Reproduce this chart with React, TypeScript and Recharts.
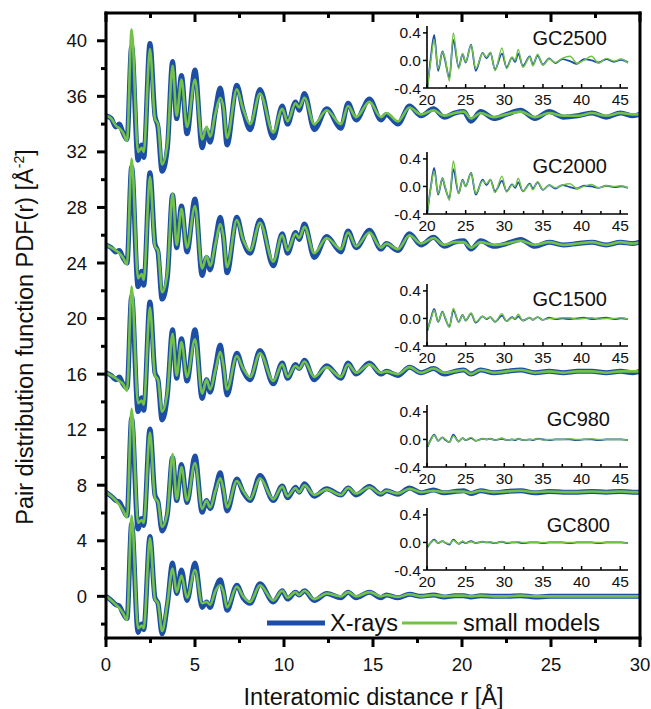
import React from 'react';
import { LineChart, Line, XAxis, YAxis } from 'recharts';

const FONT = '"Liberation Sans", Arial, Helvetica, sans-serif';
const BLUE = '#1c4ea6';
const GREEN = '#72c248';
const INK = '#111';

// ---------- main panel: interatomic distance r (Å) ----------
const R = [
  0, 0.3, 0.55, 0.75, 0.95, 1.18, 1.44, 1.8, 2.0, 2.12, 2.47,
  2.75, 2.92, 3.15, 3.45, 3.74, 3.97, 4.24, 4.55, 5.0, 5.4, 5.65,
  5.85, 6.15, 6.42, 6.6, 6.8, 7.35, 7.7, 8.1, 8.65, 9.4, 9.9,
  10.2, 10.65, 10.85, 11.15, 11.7, 12.4, 13.2, 13.6, 14.05, 14.8, 15.45,
  15.75, 16.4, 17.05, 17.7, 18.4, 19.0, 19.6, 20.1, 20.5, 21.05, 21.8,
  22.5, 23.3, 24.1, 24.9, 25.7, 26.5, 27.3, 28.1, 28.9, 29.6, 30,
];

const XRAY_2500 = [
  34.6, 34.4, 33.8, 34.0, 33.4, 32.9, 39.6, 31.4, 32.5, 31.6, 39.8,
  34.6, 33.8, 30.6, 32.3, 38.5, 34.4, 37.5, 33.3, 37.9, 32.3, 33.6,
  32.7, 35.0, 36.6, 35.2, 32.5, 36.8, 35.0, 33.6, 36.5, 33.0, 35.3,
  34.0, 35.6, 35.0, 36.2, 33.6, 35.1, 33.7, 35.5, 34.3, 35.8, 34.3,
  34.7, 34.0, 35.3, 34.6, 35.1, 34.5, 34.8, 34.9, 34.2, 34.9, 34.4,
  34.7, 35.0, 34.4, 34.9, 34.5, 34.6, 34.8, 34.5, 34.8, 34.6, 34.7,
];
const MODEL_2500 = [
  34.6, 34.4, 33.9, 33.7, 33.4, 32.8, 40.8, 32.0, 32.3, 32.0, 39.4,
  34.4, 34.0, 31.1, 32.6, 38.2, 34.6, 37.2, 33.8, 37.2, 32.9, 33.8,
  33.1, 34.8, 35.9, 35.2, 33.0, 36.5, 35.1, 34.0, 36.2, 33.4, 35.1,
  34.2, 35.5, 35.2, 35.9, 34.0, 35.0, 34.0, 35.3, 34.5, 35.6, 34.5,
  34.8, 34.2, 35.2, 34.7, 35.0, 34.6, 34.8, 34.9, 34.4, 34.8, 34.5,
  34.7, 34.9, 34.5, 34.8, 34.6, 34.6, 34.8, 34.6, 34.8, 34.7, 34.7,
];
const XRAY_2000 = [
  25.3, 25.1, 24.8, 24.9, 24.4, 24.0, 30.9, 22.3, 23.4, 22.4, 30.5,
  25.4, 24.8, 21.4, 23.0, 28.9, 25.1, 28.1, 24.8, 28.6, 23.1, 24.4,
  23.5, 25.6, 27.3, 25.9, 23.3, 27.3, 25.6, 24.7, 27.1, 23.8, 26.1,
  24.7, 26.2, 25.7, 26.8, 24.4, 25.9, 24.8, 26.3, 25.1, 26.35, 25.0,
  25.4, 24.9, 26.1, 25.3, 25.85, 25.2, 25.5, 25.6, 25.0, 25.6, 25.2,
  25.4, 25.7, 25.2, 25.5, 25.3, 25.4, 25.5, 25.3, 25.5, 25.4, 25.5,
];
const MODEL_2000 = [
  25.3, 25.1, 24.9, 24.7, 24.4, 23.9, 31.5, 22.9, 23.2, 22.8, 30.2,
  25.2, 24.9, 21.9, 23.3, 29.0, 25.3, 27.9, 25.1, 28.1, 23.6, 24.5,
  23.8, 25.4, 26.8, 25.9, 23.7, 27.1, 25.7, 24.9, 26.9, 24.1, 26.0,
  24.9, 26.1, 25.8, 26.6, 24.7, 25.8, 25.0, 26.2, 25.2, 26.2, 25.1,
  25.4, 25.0, 26.0, 25.4, 25.8, 25.3, 25.5, 25.5, 25.1, 25.5, 25.3,
  25.4, 25.6, 25.3, 25.5, 25.3, 25.4, 25.5, 25.3, 25.5, 25.4, 25.5,
];
const XRAY_1500 = [
  16.1, 15.9, 15.6, 15.8, 15.3, 15.0, 21.6, 13.3, 14.3, 13.4, 21.2,
  16.1, 15.6, 12.7, 14.5, 19.2, 15.7, 18.55, 15.5, 19.2, 14.25, 15.6,
  14.7, 16.5, 18.1, 16.5, 14.5, 17.5, 16.3, 15.6, 17.7, 15.3, 16.8,
  15.7, 16.7, 16.4, 17.0, 15.6, 16.6, 15.7, 16.8, 16.0, 16.8, 16.0,
  16.2, 15.9, 16.5, 16.1, 16.4, 16.0, 16.2, 16.3, 16.0, 16.3, 16.1,
  16.2, 16.3, 16.1, 16.2, 16.1, 16.2, 16.2, 16.1, 16.2, 16.1, 16.2,
];
const MODEL_1500 = [
  16.1, 15.9, 15.7, 15.5, 15.3, 14.8, 22.3, 13.9, 14.1, 13.8, 20.8,
  15.9, 15.6, 13.3, 14.7, 18.9, 15.9, 18.3, 15.8, 18.5, 14.6, 15.6,
  14.9, 16.3, 17.6, 16.6, 14.9, 17.3, 16.4, 15.8, 17.5, 15.5, 16.7,
  15.8, 16.6, 16.4, 16.9, 15.8, 16.5, 15.8, 16.7, 16.1, 16.7, 16.1,
  16.2, 16.0, 16.5, 16.1, 16.4, 16.1, 16.2, 16.3, 16.0, 16.3, 16.1,
  16.2, 16.3, 16.1, 16.2, 16.1, 16.2, 16.2, 16.1, 16.2, 16.2, 16.2,
];
const XRAY_980 = [
  7.5, 7.2, 6.9, 6.8, 6.3, 5.8, 12.8, 4.85, 5.6, 5.1, 12.05,
  7.3, 6.8, 4.7, 5.9, 10.0, 6.9, 9.5, 6.75, 10.1, 6.05, 6.9,
  6.3, 7.7, 8.9, 7.6, 6.15, 8.45, 7.5, 6.9, 8.7, 6.9, 7.95,
  7.1, 7.85, 7.5, 8.1, 7.2, 7.75, 7.3, 7.8, 7.3, 7.9, 7.35,
  7.6, 7.35, 7.8, 7.45, 7.65, 7.45, 7.55, 7.6, 7.4, 7.6, 7.45,
  7.55, 7.6, 7.45, 7.55, 7.5, 7.5, 7.55, 7.5, 7.55, 7.5, 7.5,
];
const MODEL_980 = [
  7.5, 7.2, 6.9, 6.6, 6.2, 5.7, 13.5, 5.3, 5.5, 5.3, 11.8,
  7.1, 6.8, 5.0, 6.0, 10.25, 7.0, 9.3, 6.9, 9.6, 6.3, 6.9,
  6.4, 7.6, 8.5, 7.7, 6.4, 8.3, 7.6, 7.0, 8.5, 7.0, 7.9,
  7.2, 7.8, 7.5, 8.0, 7.3, 7.7, 7.3, 7.8, 7.4, 7.85, 7.4,
  7.6, 7.4, 7.75, 7.5, 7.6, 7.5, 7.55, 7.55, 7.45, 7.6, 7.5,
  7.55, 7.6, 7.5, 7.55, 7.5, 7.5, 7.55, 7.5, 7.55, 7.5, 7.5,
];
const XRAY_800 = [
  0.0, -0.3, -0.6, -0.7, -1.2, -1.6, 5.2, -2.6, -2.0, -2.4, 4.3,
  -0.1, -0.5, -2.7, -0.6, 2.4, 0.2, 1.9, -0.3, 2.4, -0.8, -0.4,
  -0.8, 0.5, 1.2, 0.3, -1.0, 0.8, -0.1, -0.5, 0.9, -0.4, 0.4,
  -0.2, 0.3, 0.1, 0.4, -0.3, 0.2, -0.1, 0.3, -0.1, 0.3, -0.1,
  0.1, -0.1, 0.15, 0.0, 0.1, -0.05, 0.05, 0.05, -0.05, 0.05, 0.0,
  0.0, 0.05, -0.05, 0.0, 0.0, 0.0, 0.0, 0.0, 0.0, 0.0, 0.0,
];
const MODEL_800 = [
  0.0, -0.3, -0.6, -0.85, -1.2, -1.7, 5.8, -2.3, -2.1, -2.3, 4.2,
  -0.2, -0.5, -2.5, -0.5, 2.0, 0.3, 1.5, -0.1, 1.9, -0.5, -0.4,
  -0.6, 0.4, 0.8, 0.3, -0.8, 0.7, 0.0, -0.4, 0.8, -0.3, 0.4,
  -0.1, 0.3, 0.1, 0.4, -0.2, 0.2, 0.0, 0.3, 0.0, 0.3, 0.0,
  0.1, -0.05, 0.15, 0.0, 0.1, 0.0, 0.05, 0.05, 0.0, 0.05, 0.0,
  0.0, 0.05, 0.0, 0.0, 0.0, 0.0, 0.0, 0.0, 0.0, 0.0, 0.0,
];

// ---------- insets: difference curves 20–46 Å ----------
const IR = [
  20.05, 20.5, 20.93, 21.44, 22.0, 22.3, 22.9, 23.4, 24.1, 24.6,
  25.0, 25.7, 26.3, 27.2, 27.7, 28.2, 28.8, 29.7, 30.3, 31.0,
  31.4, 31.8, 32.4, 33.3, 33.7, 34.3, 35.0, 35.8, 36.6, 37.5,
  38.5, 39.4, 40.3, 41.3, 42.2, 43.2, 44.2, 45.1, 46.0,
];
const IX_2500 = [
  -0.4, 0.05, 0.37, -0.15, 0.13, 0.02, -0.25, 0.3, -0.1, 0.09,
  -0.03, 0.23, -0.15, 0.11, 0.03, 0.11, -0.13, 0.1, -0.1, 0.04,
  -0.02, 0.1, -0.08, 0.06, -0.06, 0.07, -0.06, 0.03, -0.04, 0.02,
  -0.01, -0.05, 0.02, 0.0, -0.03, 0.02, -0.02, 0.01, -0.03,
];
const IM_2500 = [
  -0.4, 0.0, 0.3, -0.12, 0.12, 0.05, -0.3, 0.4, -0.12, 0.1,
  -0.02, 0.22, -0.12, 0.1, 0.05, 0.12, -0.15, 0.18, -0.12, 0.05,
  0.0, 0.16, -0.1, 0.05, -0.08, 0.09, -0.07, 0.02, -0.03, 0.03,
  0.06, -0.04, 0.0, 0.06, -0.04, 0.03, -0.01, 0.02, -0.04,
];
const IX_2000 = [
  -0.38, 0.0, 0.27, -0.12, 0.12, 0.0, -0.17, 0.25, -0.1, 0.1,
  0.0, 0.2, -0.12, 0.1, 0.02, 0.1, -0.07, 0.08, -0.07, 0.03,
  -0.02, 0.06, -0.07, 0.04, -0.03, 0.06, -0.05, 0.02, -0.03, 0.02,
  -0.01, -0.03, 0.01, 0.0, -0.02, 0.01, -0.01, 0.0, -0.02,
];
const IM_2000 = [
  -0.36, -0.02, 0.22, -0.1, 0.12, 0.02, -0.2, 0.37, -0.1, 0.09,
  0.0, 0.2, -0.1, 0.08, 0.04, 0.1, -0.09, 0.15, -0.08, 0.02,
  0.0, 0.12, -0.07, 0.03, -0.05, 0.07, -0.05, 0.02, -0.02, 0.02,
  0.04, -0.03, 0.0, 0.03, -0.02, 0.01, 0.0, 0.01, -0.02,
];
const IX_1500 = [
  -0.18, 0.0, 0.14, -0.05, 0.1, 0.02, -0.12, 0.12, -0.05, 0.05,
  -0.03, 0.07, -0.06, 0.03, -0.01, 0.02, -0.05, 0.04, -0.04, 0.02,
  -0.01, 0.03, -0.03, 0.01, -0.02, 0.02, -0.02, 0.01, -0.01, 0.0,
  -0.01, 0.0, 0.01, -0.01, 0.0, 0.01, -0.01, 0.0, -0.01,
];
const IM_1500 = [
  -0.17, -0.02, 0.12, -0.04, 0.09, 0.03, -0.13, 0.15, -0.06, 0.05,
  -0.03, 0.08, -0.05, 0.03, 0.0, 0.02, -0.05, 0.07, -0.04, 0.01,
  0.0, 0.06, -0.03, 0.01, -0.02, 0.02, -0.02, 0.0, 0.0, 0.01,
  0.01, -0.01, 0.0, 0.01, -0.01, 0.0, 0.0, 0.01, -0.01,
];
const IX_980 = [
  -0.11, 0.0, 0.07, -0.02, 0.03, 0.0, -0.04, 0.07, -0.03, 0.02,
  -0.01, 0.02, -0.02, 0.01, 0.0, 0.01, -0.01, 0.01, -0.01, 0.0,
  -0.01, 0.01, -0.01, 0.0, -0.01, 0.01, 0.0, -0.01, 0.0, 0.0,
  0.0, -0.01, 0.0, 0.0, -0.01, 0.0, 0.0, 0.0, -0.01,
];
const IM_980 = [
  -0.1, -0.01, 0.06, -0.02, 0.03, 0.01, -0.04, 0.05, -0.03, 0.02,
  -0.01, 0.03, -0.02, 0.01, 0.0, 0.01, -0.01, 0.02, -0.01, 0.0,
  0.0, 0.01, -0.01, 0.0, 0.0, 0.01, -0.01, 0.0, 0.0, 0.0,
  0.01, 0.0, 0.0, 0.01, 0.0, 0.0, 0.0, 0.0, -0.01,
];
const IX_800 = [
  -0.07, 0.0, 0.04, -0.01, 0.02, 0.0, -0.03, 0.04, -0.02, 0.01,
  -0.01, 0.02, -0.01, 0.01, 0.0, 0.0, -0.01, 0.01, -0.01, 0.0,
  0.0, 0.0, -0.01, 0.0, 0.0, 0.0, -0.01, 0.0, 0.0, 0.0,
  -0.01, 0.0, 0.0, 0.0, -0.01, 0.0, 0.0, 0.0, -0.01,
];
const IM_800 = [
  -0.06, 0.0, 0.03, -0.01, 0.02, 0.0, -0.02, 0.03, -0.02, 0.02,
  -0.01, 0.01, -0.01, 0.01, 0.0, 0.01, -0.01, 0.01, 0.0, 0.0,
  0.0, 0.01, 0.0, 0.0, 0.0, 0.0, 0.0, 0.0, 0.0, 0.0,
  0.0, 0.0, 0.0, 0.0, 0.0, 0.0, 0.0, 0.0, -0.01,
];

// ---------- ticks & labels ----------
const MAIN_X_MAJOR = [0, 5, 10, 15, 20, 25, 30];
const MAIN_X_TICKS = [0, 2.5, 5, 7.5, 10, 12.5, 15, 17.5, 20, 22.5, 25, 27.5, 30];
const MAIN_Y_MAJOR = [0, 4, 8, 12, 16, 20, 24, 28, 32, 36, 40];
const MAIN_Y_TICKS = [-2, 0, 2, 4, 6, 8, 10, 12, 14, 16, 18, 20, 22, 24, 26, 28, 30, 32, 34, 36, 38, 40];
const INSET_X_MAJOR = [20, 25, 30, 35, 40, 45];
const INSET_X_TICKS = [20, 22.5, 25, 27.5, 30, 32.5, 35, 37.5, 40, 42.5, 45];
const INSET_Y_TICKS = [-0.4, 0, 0.4];
const SAMPLES = ['GC2500', 'GC2000', 'GC1500', 'GC980', 'GC800'];
const SERIES_NAMES = ['X-rays', 'small models'];

const mainData = R.map((r, i) => ({
  r,
  x2500: XRAY_2500[i], m2500: MODEL_2500[i],
  x2000: XRAY_2000[i], m2000: MODEL_2000[i],
  x1500: XRAY_1500[i], m1500: MODEL_1500[i],
  x980: XRAY_980[i], m980: MODEL_980[i],
  x800: XRAY_800[i], m800: MODEL_800[i],
}));
const MAIN_KEYS = [['x2500', 'm2500'], ['x2000', 'm2000'], ['x1500', 'm1500'], ['x980', 'm980'], ['x800', 'm800']];

const INSET_SERIES = [
  [IX_2500, IM_2500], [IX_2000, IM_2000], [IX_1500, IM_1500], [IX_980, IM_980], [IX_800, IM_800],
];
const insetData = INSET_SERIES.map(([xs, ms]) => IR.map((r, i) => ({ r, x: xs[i], m: ms[i] })));

// layout (pixels) of the insets and their titles
const INSET_LAYOUT = [
  { top: 26.4, titleX: 607, titleY: 45 },
  { top: 152.4, titleX: 607, titleY: 172.5 },
  { top: 284, titleX: 607, titleY: 306 },
  { top: 404.8, titleX: 610, titleY: 426 },
  { top: 508, titleX: 610, titleY: 532 },
];
const INSET_LEFT = 427;
const INSET_W = 201;
const INSET_H = 62;

const axisLineMain = { stroke: '#000', strokeWidth: 3, strokeLinecap: 'square' as const };
const axisLineInset = { stroke: '#000', strokeWidth: 1.6 };

function MainXTick(p: any) {
  const { x, y, payload, labels } = p;
  const major = MAIN_X_MAJOR.includes(payload.value);
  return (
    <g>
      <line x1={x} x2={x} y1={y} y2={y + (major ? 9 : 5)} stroke="#000" strokeWidth={3} />
      {labels && major && (
        <text x={x} y={y + 26} textAnchor="middle" dominantBaseline="central" fontSize={18.5} fontFamily={FONT} fill={INK}>
          {payload.value}
        </text>
      )}
    </g>
  );
}

function MainYTick(p: any) {
  const { x, y, payload, labels } = p;
  const major = MAIN_Y_MAJOR.includes(payload.value);
  const len = major ? 9 : 5;
  return (
    <g>
      <line x1={x - len} x2={x} y1={y} y2={y} stroke="#000" strokeWidth={3} />
      {labels && major && (
        <text x={x - 19} y={y} textAnchor="end" dominantBaseline="central" fontSize={18.5} fontFamily={FONT} fill={INK}>
          {payload.value}
        </text>
      )}
    </g>
  );
}

function InsetXTick(p: any) {
  const { x, y, payload } = p;
  const major = INSET_X_MAJOR.includes(payload.value);
  return (
    <g>
      <line x1={x} x2={x} y1={y} y2={y - (major ? 4 : 3)} stroke="#000" strokeWidth={1.5} />
      {major && (
        <text x={x} y={y + 11} textAnchor="middle" dominantBaseline="central" fontSize={15.5} fontFamily={FONT} fill={INK}>
          {payload.value}
        </text>
      )}
    </g>
  );
}

function InsetYTick(p: any) {
  const { x, y, payload } = p;
  return (
    <g>
      <line x1={x - 4} x2={x} y1={y} y2={y} stroke="#000" strokeWidth={1.5} />
      <text x={x - 6} y={y} textAnchor="end" dominantBaseline="central" fontSize={15.5} fontFamily={FONT} fill={INK}>
        {Number(payload.value).toFixed(1)}
      </text>
    </g>
  );
}

function Inset({ idx }: { idx: number }) {
  const lay = INSET_LAYOUT[idx];
  const yw = 40;
  const mt = 6;
  const mr = 12;
  const xh = 24;
  return (
    <div style={{ position: 'absolute', left: INSET_LEFT - yw, top: lay.top - mt }}>
      <LineChart width={yw + INSET_W + mr} height={mt + INSET_H + xh} data={insetData[idx]} margin={{ top: mt, right: mr, bottom: 0, left: 0 }}>
        <XAxis dataKey="r" type="number" domain={[20, 46]} ticks={INSET_X_TICKS} interval={0} height={xh}
          tickSize={0} tickMargin={0} tickLine={false} axisLine={axisLineInset} tick={(t: any) => <InsetXTick {...t} />} />
        <YAxis type="number" domain={[-0.4, 0.5]} ticks={INSET_Y_TICKS} interval={0} width={yw}
          tickSize={0} tickMargin={0} tickLine={false} axisLine={axisLineInset} tick={(t: any) => <InsetYTick {...t} />} />
        <Line dataKey="x" type="monotone" stroke={BLUE} strokeWidth={1.8} dot={false} activeDot={false} isAnimationActive={false} />
        <Line dataKey="m" type="monotone" stroke={GREEN} strokeWidth={1.4} dot={false} activeDot={false} isAnimationActive={false} />
      </LineChart>
    </div>
  );
}

export default function App() {
  return (
    <div style={{ position: 'absolute', left: 0, top: 0, width: 651, height: 709, background: '#fff' }}>
      <div style={{ position: 'absolute', left: 0, top: 0 }}>
        <LineChart width={651} height={709} data={mainData} margin={{ top: 12, right: 10, bottom: 41, left: 46 }}>
          <XAxis xAxisId="b" dataKey="r" type="number" domain={[0, 30]} ticks={MAIN_X_TICKS} interval={0} height={30}
            tickSize={0} tickMargin={0} tickLine={false} axisLine={axisLineMain} tick={(t: any) => <MainXTick {...t} labels />} />
          <XAxis xAxisId="t" orientation="top" dataKey="r" type="number" domain={[0, 30]} ticks={MAIN_X_TICKS} interval={0} height={1}
            tickSize={0} tickMargin={0} tickLine={false} axisLine={axisLineMain} tick={(t: any) => <MainXTick {...t} />} />
          <YAxis yAxisId="l" type="number" domain={[-3, 42]} ticks={MAIN_Y_TICKS} interval={0} width={60}
            tickSize={0} tickMargin={0} tickLine={false} axisLine={axisLineMain} tick={(t: any) => <MainYTick {...t} labels />} />
          <YAxis yAxisId="r" orientation="right" type="number" domain={[-3, 42]} ticks={MAIN_Y_TICKS} interval={0} width={1}
            tickSize={0} tickMargin={0} tickLine={false} axisLine={axisLineMain} tick={(t: any) => <MainYTick {...t} />} />
          {MAIN_KEYS.map(([xk, mk]) => (
            <React.Fragment key={xk}>
              <Line xAxisId="b" yAxisId="l" dataKey={xk} name={SERIES_NAMES[0]} type="monotone" stroke={BLUE} strokeWidth={5}
                dot={false} activeDot={false} isAnimationActive={false} />
              <Line xAxisId="b" yAxisId="l" dataKey={mk} name={SERIES_NAMES[1]} type="monotone" stroke={GREEN} strokeWidth={2.6}
                dot={false} activeDot={false} isAnimationActive={false} />
            </React.Fragment>
          ))}
        </LineChart>
      </div>
      {SAMPLES.map((s, i) => (
        <Inset key={s} idx={i} />
      ))}
      <svg width={651} height={709} style={{ position: 'absolute', left: 0, top: 0, pointerEvents: 'none' }} fontFamily={FONT}>
        <text transform="translate(33,337) rotate(-90)" textAnchor="middle" fontSize={23.5} fill={INK}>
          Pair distribution function PDF(r) [Å<tspan dy={-9} fontSize={14}>-2</tspan>
          <tspan dy={9}>]</tspan>
        </text>
        <text x={373.5} y={705} textAnchor="middle" fontSize={23.5} fill={INK}>
          Interatomic distance r [Å]
        </text>
        <line x1={267} x2={325} y1={623} y2={623} stroke={BLUE} strokeWidth={5} />
        <text x={330} y={631} fontSize={23.5} fill={INK}>{SERIES_NAMES[0]}</text>
        <line x1={402} x2={457} y1={623} y2={623} stroke={GREEN} strokeWidth={3} />
        <text x={463} y={631} fontSize={23.5} fill={INK}>{SERIES_NAMES[1]}</text>
        {SAMPLES.map((s, i) => (
          <text key={s} x={INSET_LAYOUT[i].titleX} y={INSET_LAYOUT[i].titleY} textAnchor="end" fontSize={20} fill={INK}>
            {s}
          </text>
        ))}
      </svg>
    </div>
  );
}
